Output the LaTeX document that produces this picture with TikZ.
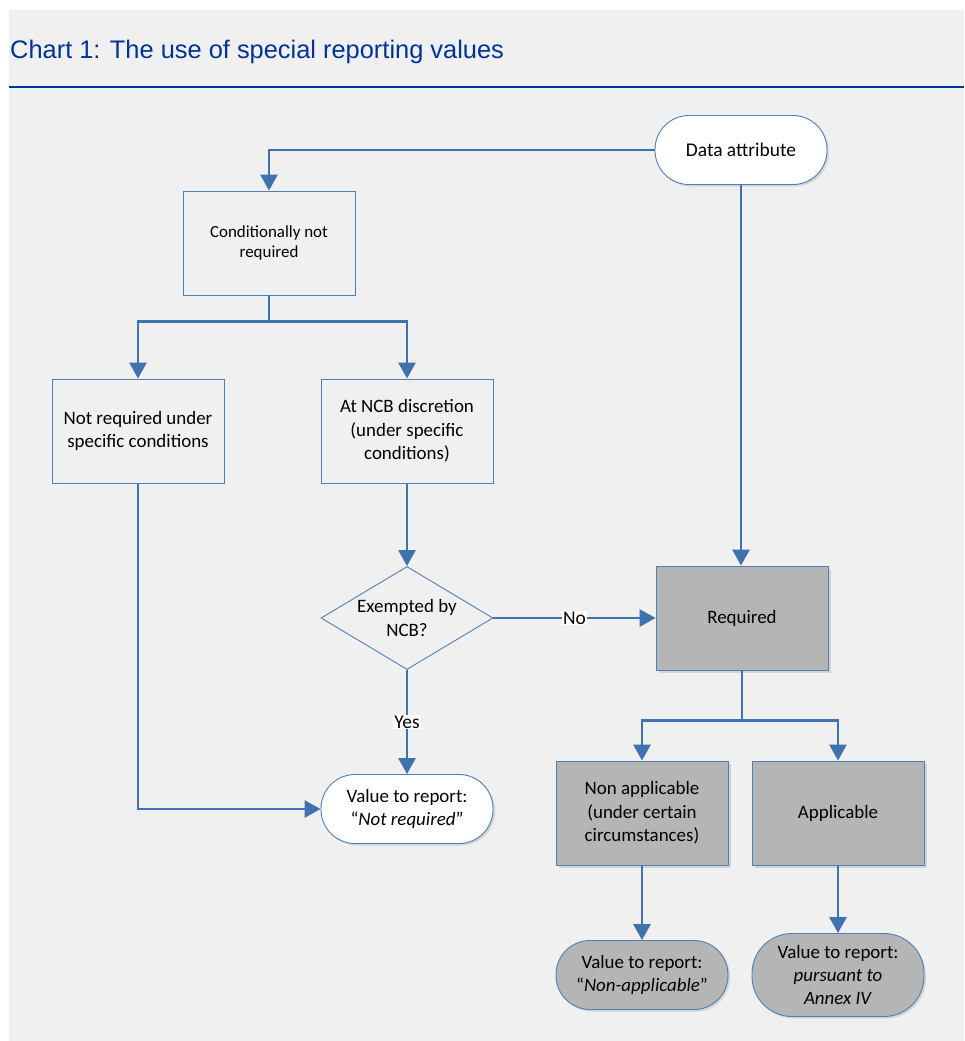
\documentclass[tikz,border=0pt]{standalone}
\usepackage{fontspec}
\setmainfont{Carlito}
\newfontfamily\titlefont{Liberation Sans}
\usetikzlibrary{arrows.meta,shapes.geometric,shadows,calc}
\definecolor{bg}{HTML}{F0F0F0}
\definecolor{ln}{HTML}{3F72AF}
\definecolor{bd}{HTML}{4F7FB8}
\definecolor{gr}{HTML}{B5B5B5}
\definecolor{shd}{HTML}{D4D4D4}
\definecolor{ttl}{HTML}{003399}
\tikzset{
  base/.style={draw=bd, line width=0.9bp, inner sep=0pt, align=center,
    font=\fontsize{19}{23.5}\selectfont, text=black},
  box/.style={base, rectangle, minimum width=172bp, minimum height=104bp, fill=bg},
  graybox/.style={box, fill=gr, drop shadow={shadow xshift=3bp, shadow yshift=-3bp, fill=shd, opacity=1}},
  term/.style={base, rectangle, rounded corners=34bp, minimum width=172bp, minimum height=69bp, fill=white,
    drop shadow={shadow xshift=2bp, shadow yshift=-2bp, fill=shd, opacity=1}},
  grayterm/.style={term, fill=gr},
  decision/.style={base, diamond, minimum width=172bp, minimum height=103bp, fill=bg},
  plain/.style={inner sep=0pt, align=center, font=\fontsize{19}{23.5}\selectfont, text=black},
  wire/.style={draw=ln, line width=2.8bp},
  conn/.style={wire, -{Triangle[length=16bp,width=17bp]}},
  lbl/.style={fill=white, inner sep=1bp, font=\fontsize{19.5}{22}\selectfont, text=black}
}
\begin{document}
\begin{tikzpicture}[x=1bp,y=-1bp]
\useasboundingbox (0,0) rectangle (965,1041);
\fill[white] (0,0) rectangle (965,1041);
\fill[bg] (9,10) rectangle (964,1041);
\node[anchor=base west, text=ttl, inner sep=0pt, font=\titlefont\fontsize{25.5}{30}\selectfont] (title) at (10,58) {Chart 1: The use of special reporting values};
\draw[ttl, line width=1.5bp] (9,87) -- (964,87);

\node[term, font=\fontsize{19.5}{23}\selectfont] (data) at (741,150) {Data attribute};
\node[box, font=\fontsize{17}{21}\selectfont] (cnr) at (269,243) {Conditionally not\\required};
\node[box] (nrs) at (138,431) {Not required under\\specific conditions};
\node[box] (ncb) at (407,431) {At NCB discretion\\(under specific\\conditions)};
\node[decision] (dia) at (407,618) {};
\node[plain] (diatext) at (dia.center) {Exempted by\\NCB?};
\node[graybox] (req) at (742,618) {Required};
\node[term] (vnr) at (407,809) {Value to report:\\“\textit{Not required}”};
\node[graybox] (na) at (642,813) {Non applicable\\(under certain\\circumstances)};
\node[graybox] (ap) at (838,813) {Applicable};
\node[grayterm] (vna) at (642,975) {Value to report:\\“\textit{Non-applicable}”};
\node[grayterm, minimum height=83bp, rounded corners=40bp] (vap) at (838,975) {Value to report:\\\textit{pursuant to}\\\textit{Annex IV}};

\coordinate (s1) at ($(cnr.south)+(0,26)$);
\coordinate (s2) at ($(req.south)+(0,50)$);

\draw[conn] (data.west) -| (cnr.north);
\draw[conn] (data.south) -- (data.south |- req.north);
\draw[wire] (cnr.south) -- (s1);
\draw[conn] (s1) -| (nrs.north);
\draw[conn] (s1) -| (ncb.north);
\draw[conn] (ncb.south) -- (dia.north);
\draw[conn] (dia.east) -- node[lbl] {No} (req.west);
\draw[conn] (dia.south) -- node[lbl] {Yes} (vnr.north);
\draw[conn] (nrs.south) |- (vnr.west);
\draw[wire] (req.south) -- (s2);
\draw[conn] (s2) -| (na.north);
\draw[conn] (s2) -| (ap.north);
\draw[conn] (na.south) -- (vna.north);
\draw[conn] (ap.south) -- (vap.north);
\end{tikzpicture}
\end{document}
